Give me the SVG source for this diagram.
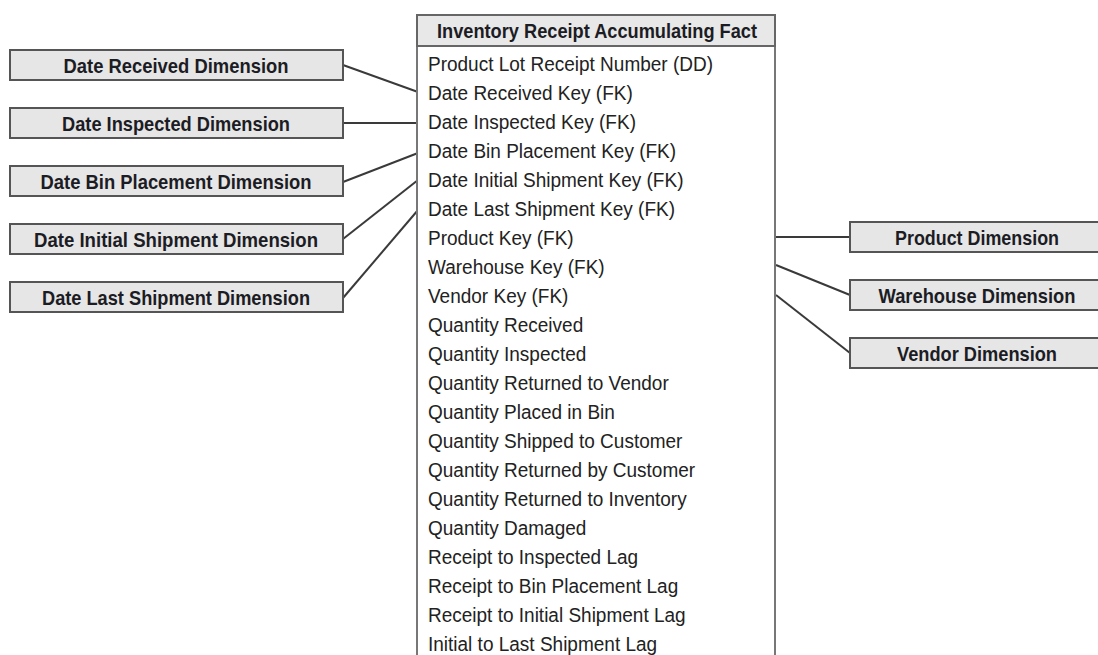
<svg xmlns="http://www.w3.org/2000/svg" width="1098" height="655" viewBox="0 0 1098 655">
<style>
.dim{fill:#e6e6e6;stroke:#555;stroke-width:2}
.lbl{font-family:"Liberation Sans",Arial,sans-serif;font-weight:bold;font-size:21px;fill:#1c1c24;text-anchor:middle}
.row{font-family:"Liberation Sans",Arial,sans-serif;font-size:21px;fill:#222}
.conn{stroke:#3a3a3a;stroke-width:2;fill:none}
</style>
<rect width="1098" height="655" fill="#fff"/>
<g id="connectors">
<line class="conn" x1="343" y1="65" x2="418" y2="92"/>
<line class="conn" x1="343" y1="123" x2="418" y2="123"/>
<line class="conn" x1="343" y1="182" x2="418" y2="153"/>
<line class="conn" x1="343" y1="239" x2="418" y2="180"/>
<line class="conn" x1="343" y1="298" x2="418" y2="210"/>
<line class="conn" x1="776" y1="237" x2="850" y2="237"/>
<line class="conn" x1="776" y1="265" x2="850" y2="295"/>
<line class="conn" x1="776" y1="295" x2="850" y2="353"/>
</g>
<g id="fact">
<rect x="417" y="15" width="358" height="660" fill="#fff" stroke="#777" stroke-width="2"/>
<rect x="417" y="15" width="358" height="31" fill="#e8e8e8" stroke="#666" stroke-width="2"/>
<text class="lbl" x="597" y="38" textLength="320" lengthAdjust="spacingAndGlyphs">Inventory Receipt Accumulating Fact</text>
<g transform="matrix(0.905 0 0 1 428 0)">
<text class="row" x="0" y="71">Product Lot Receipt Number (DD)</text>
<text class="row" x="0" y="100">Date Received Key (FK)</text>
<text class="row" x="0" y="129">Date Inspected Key (FK)</text>
<text class="row" x="0" y="158">Date Bin Placement Key (FK)</text>
<text class="row" x="0" y="187">Date Initial Shipment Key (FK)</text>
<text class="row" x="0" y="216">Date Last Shipment Key (FK)</text>
<text class="row" x="0" y="245">Product Key (FK)</text>
<text class="row" x="0" y="274">Warehouse Key (FK)</text>
<text class="row" x="0" y="303">Vendor Key (FK)</text>
<text class="row" x="0" y="332">Quantity Received</text>
<text class="row" x="0" y="361">Quantity Inspected</text>
<text class="row" x="0" y="390">Quantity Returned to Vendor</text>
<text class="row" x="0" y="419">Quantity Placed in Bin</text>
<text class="row" x="0" y="448">Quantity Shipped to Customer</text>
<text class="row" x="0" y="477">Quantity Returned by Customer</text>
<text class="row" x="0" y="506">Quantity Returned to Inventory</text>
<text class="row" x="0" y="535">Quantity Damaged</text>
<text class="row" x="0" y="564">Receipt to Inspected Lag</text>
<text class="row" x="0" y="593">Receipt to Bin Placement Lag</text>
<text class="row" x="0" y="622">Receipt to Initial Shipment Lag</text>
<text class="row" x="0" y="651">Initial to Last Shipment Lag</text>
</g>
</g>
<g id="date-received">
<rect class="dim" x="10" y="50" width="333" height="30"/>
<text class="lbl" x="176" y="72.5" textLength="225" lengthAdjust="spacingAndGlyphs">Date Received Dimension</text>
</g>
<g id="date-inspected">
<rect class="dim" x="10" y="108" width="333" height="30"/>
<text class="lbl" x="176" y="130.5" textLength="228" lengthAdjust="spacingAndGlyphs">Date Inspected Dimension</text>
</g>
<g id="date-bin-placement">
<rect class="dim" x="10" y="166" width="333" height="30"/>
<text class="lbl" x="176" y="188.5" textLength="271" lengthAdjust="spacingAndGlyphs">Date Bin Placement Dimension</text>
</g>
<g id="date-initial-shipment">
<rect class="dim" x="10" y="224" width="333" height="30"/>
<text class="lbl" x="176" y="246.5" textLength="284" lengthAdjust="spacingAndGlyphs">Date Initial Shipment Dimension</text>
</g>
<g id="date-last-shipment">
<rect class="dim" x="10" y="282" width="333" height="30"/>
<text class="lbl" x="176" y="304.5" textLength="268" lengthAdjust="spacingAndGlyphs">Date Last Shipment Dimension</text>
</g>
<g id="product">
<rect class="dim" x="850" y="222" width="270" height="30"/>
<text class="lbl" x="977" y="244.5" textLength="164" lengthAdjust="spacingAndGlyphs">Product Dimension</text>
</g>
<g id="warehouse">
<rect class="dim" x="850" y="280" width="270" height="30"/>
<text class="lbl" x="977" y="302.5" textLength="197" lengthAdjust="spacingAndGlyphs">Warehouse Dimension</text>
</g>
<g id="vendor">
<rect class="dim" x="850" y="338" width="270" height="30"/>
<text class="lbl" x="977" y="360.5" textLength="160" lengthAdjust="spacingAndGlyphs">Vendor Dimension</text>
</g>
</svg>
